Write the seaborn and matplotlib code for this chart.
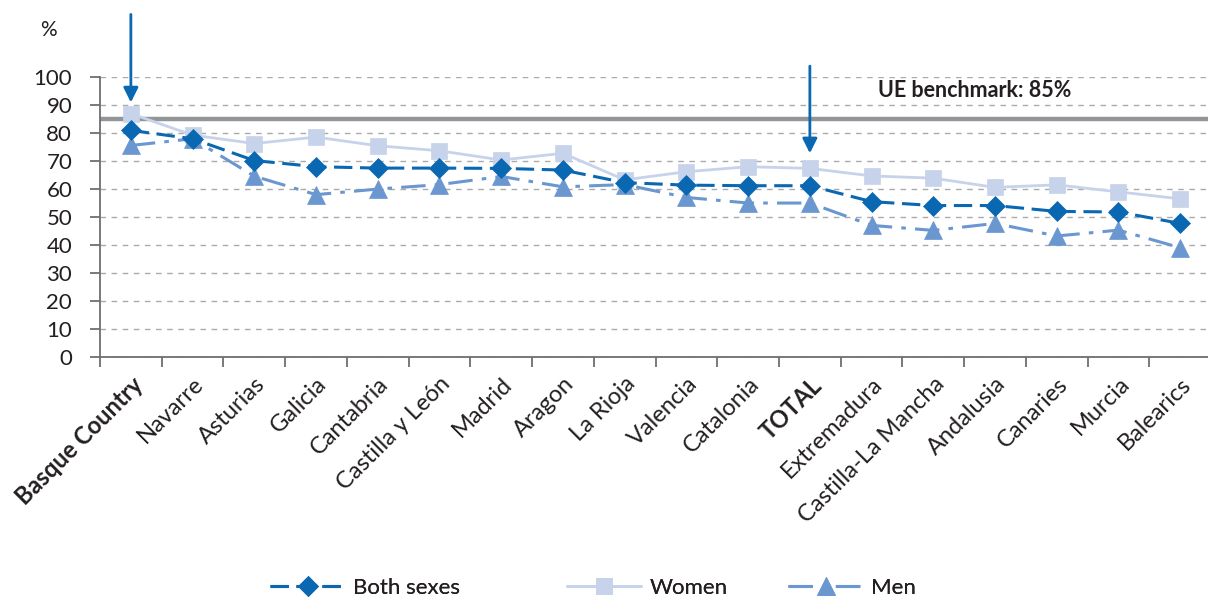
import matplotlib
matplotlib.use("Agg")
import matplotlib.pyplot as plt
import seaborn as sns
import pandas as pd
import numpy as np

regions = ["Basque Country", "Navarre", "Asturias", "Galicia", "Cantabria",
           "Castilla y León", "Madrid", "Aragon", "La Rioja", "Valencia",
           "Catalonia", "TOTAL", "Extremadura", "Castilla-La Mancha",
           "Andalusia", "Canaries", "Murcia", "Balearics"]
both_sexes = [81.0, 78.0, 70.2, 68.0, 67.5, 67.5, 67.4, 66.8, 62.3, 61.4,
              61.2, 61.2, 55.5, 54.1, 54.1, 52.0, 51.8, 47.7]
women = [87.0, 79.3, 76.3, 78.6, 75.5, 73.7, 70.4, 72.8, 63.3, 66.2,
         68.0, 67.4, 64.7, 63.9, 60.6, 61.5, 59.0, 56.5]
men = [75.6, 78.0, 64.6, 58.0, 60.0, 61.6, 64.5, 60.8, 61.6, 57.0,
       55.0, 55.0, 47.0, 45.2, 47.7, 43.2, 45.3, 39.0]
benchmark = 85
highlighted = ["Basque Country", "TOTAL"]

sns.set_theme(style="white")
plt.rcParams["font.family"] = ["Lato", "DejaVu Sans"]

W, H = 1208, 598
fig = plt.figure(figsize=(W / 100, H / 100), dpi=100)
ax = fig.add_axes([100 / W, 241.3 / H, 1108 / W, 279.4 / H])

df = pd.DataFrame({"pos": np.arange(len(regions)), "Both sexes": both_sexes,
                   "Women": women, "Men": men})

ax.axhline(benchmark, color="#939598", lw=3.2, zorder=1)

series = [
    ("Women", "#c6d3ea", "s", (0, ()), 2.0, 12),
    ("Men", "#6b97d0", "^", (0, (8, 3, 1.5, 3)), 2.2, 13),
    ("Both sexes", "#0a67b2", "D", (0, (6, 2.5)), 2.2, 10),
]
for name, col, mk, ls, lw, ms in series:
    sns.lineplot(data=df, x="pos", y=name, ax=ax, color=col, marker=mk,
                 linestyle=ls, lw=lw, markersize=ms, markeredgecolor=col,
                 markeredgewidth=0.5, label=name, zorder=3)

ax.set_ylim(0, 100)
ax.set_xlim(-0.5, 17.45)
ax.set_yticks(range(0, 101, 10))
ax.yaxis.grid(True, color="#aaaaaa", ls=(0, (4, 4)), lw=1.0)
ax.set_axisbelow(True)
for s in ["top", "right"]:
    ax.spines[s].set_visible(False)
for s in ["left", "bottom"]:
    ax.spines[s].set_color("#6d6e71")
    ax.spines[s].set_linewidth(1.3)
ax.tick_params(axis="y", which="major", left=True, length=7, width=1.3,
               color="#6d6e71", labelsize=16, labelcolor="#231f20", pad=13)
ax.set_xlabel("")
ax.set_ylabel("")

# category boundaries carry the ticks, centres carry the labels
ax.set_xticks(np.arange(-0.5, len(regions) - 0.5, 1.0))
ax.set_xticklabels([])
ax.tick_params(axis="x", which="major", bottom=True, length=7, width=1.3,
               color="#6d6e71")
ax.set_xticks(np.arange(len(regions)), minor=True)
ax.set_xticklabels(regions, minor=True, rotation=45, ha="right",
                   rotation_mode="anchor", fontsize=17, color="#231f20")
ax.tick_params(axis="x", which="minor", length=0, pad=12)
for lbl in ax.get_xticklabels(minor=True):
    if lbl.get_text() in highlighted:
        lbl.set_fontweight("bold")

ax.text(12.1, 95.3, "UE benchmark: 85%", fontsize=15.5, fontweight="bold",
        color="#231f20", va="center", ha="left")

arrow_kw = dict(arrowstyle="-|>", color="#0a67b2", lw=2.0, mutation_scale=22,
                shrinkA=0, shrinkB=0)
ax.annotate("", xy=(0, 91.0), xytext=(0, 122.5), arrowprops=arrow_kw,
            annotation_clip=False)
ax.annotate("", xy=(11, 72.8), xytext=(11, 104.0), arrowprops=arrow_kw,
            annotation_clip=False)

fig.text(48 / W, 1 - 30 / H, "%", fontsize=15, color="#231f20",
         ha="center", va="center")

# one legend entry per series, spread along the bottom
handles, labels = ax.get_legend_handles_labels()
ax.get_legend().remove()
entry_x = {"Both sexes": 270, "Women": 566, "Men": 788}
for name, xpix in entry_x.items():
    h = handles[labels.index(name)]
    leg = fig.legend([h], [name], loc="center left",
                     bbox_to_anchor=(xpix / W, 1 - 588 / H), frameon=False,
                     fontsize=16, handlelength=3.4, handletextpad=0.35,
                     borderpad=0, borderaxespad=0, labelcolor="#231f20")
    fig.add_artist(leg)

fig.savefig("out.png", dpi=100)
